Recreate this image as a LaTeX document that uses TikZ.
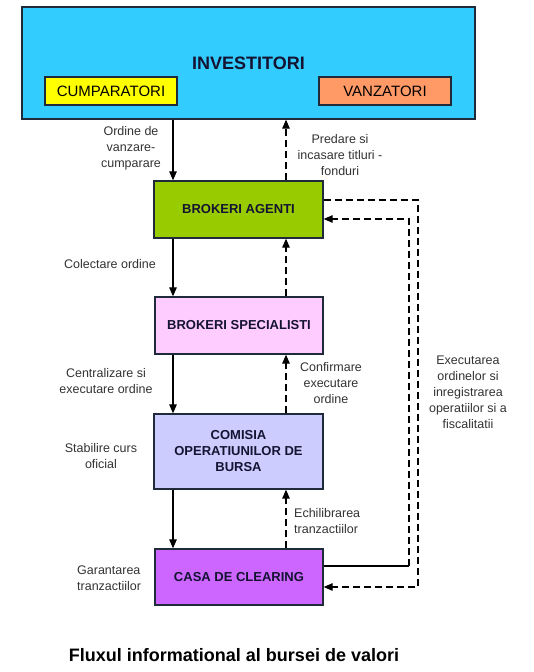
\documentclass[tikz,border=0pt]{standalone}
\usepackage{fontspec}
\setmainfont{Liberation Sans}
\usetikzlibrary{arrows.meta}
\definecolor{invblue}{HTML}{33CCFF}
\definecolor{cumpy}{HTML}{FFFF00}
\definecolor{vanzs}{HTML}{FF9966}
\definecolor{agreen}{HTML}{99CC00}
\definecolor{spink}{HTML}{FFCCFF}
\definecolor{clav}{HTML}{CCCCFF}
\definecolor{cpurp}{HTML}{CC66FF}
\definecolor{edge}{HTML}{1F2A3A}
\definecolor{boxtext}{HTML}{141432}
\definecolor{lbl}{HTML}{333333}
\tikzset{
  box/.style={draw=edge, line width=1.3pt, text=boxtext, font=\fontsize{13}{16}\selectfont\bfseries, align=center, inner sep=0pt},
  subbox/.style={draw=edge, line width=1.3pt, text=black, font=\fontsize{15}{18}\selectfont, inner sep=0pt, minimum width=132pt, minimum height=28pt},
  lab/.style={text=lbl, font=\fontsize{12.5}{16}\selectfont, align=center, inner sep=0pt},
  labl/.style={text=lbl, font=\fontsize{12.5}{16}\selectfont, align=left, inner sep=0pt},
  flow/.style={line width=1.1pt, -{Triangle[length=9pt,width=7.5pt]}},
  back/.style={line width=1.1pt, dash pattern=on 7pt off 4pt, -{Triangle[length=9pt,width=7.5pt]}},
  plainline/.style={line width=1.1pt}
}
\begin{document}
\begin{tikzpicture}[x=1pt,y=-1pt]
\useasboundingbox[fill=white] (0,0) rectangle (533,672);
% main boxes
\node[box, fill=invblue, minimum width=453pt, minimum height=112pt, font=\fontsize{18}{20}\selectfont\bfseries] (inv) at (248.5,63) {INVESTITORI};
\node[subbox, fill=cumpy] (cump) at (111,91) {CUMPARATORI};
\node[subbox, fill=vanzs] (vanz) at (385,91) {VANZATORI};
\node[box, fill=agreen, minimum width=169pt, minimum height=57pt] (ba) at (238.5,209.5) {BROKERI AGENTI};
\node[box, fill=spink, minimum width=168pt, minimum height=57pt] (bs) at (239,325.5) {BROKERI SPECIALISTI};
\node[box, fill=clav, minimum width=169pt, minimum height=75pt] (com) at (238.5,451.5) {COMISIA\\OPERATIUNILOR DE\\BURSA};
\node[box, fill=cpurp, minimum width=168pt, minimum height=56pt] (casa) at (239,577) {CASA DE CLEARING};
% helper coordinates for arrow columns
\coordinate (xl) at (173,0);
\coordinate (xr) at (286,0);
\coordinate (xo) at (418,0);
\coordinate (xi) at (409,0);
% solid downward flow
\draw[flow] (inv.south -| xl) -- (ba.north -| xl);
\draw[flow] (ba.south -| xl) -- (bs.north -| xl);
\draw[flow] (bs.south -| xl) -- (com.north -| xl);
\draw[flow] (com.south -| xl) -- (casa.north -| xl);
% dashed upward flow
\draw[back] (ba.north -| xr) -- (inv.south -| xr);
\draw[back] (bs.north -| xr) -- (ba.south -| xr);
\draw[back] (com.north -| xr) -- (bs.south -| xr);
\draw[back] (casa.north -| xr) -- (com.south -| xr);
% right loops
\coordinate (baout) at ([yshift=9.5pt]ba.east);
\coordinate (bain) at ([yshift=-9.5pt]ba.east);
\coordinate (casaout) at ([yshift=11pt]casa.east);
\coordinate (casain) at ([yshift=-10pt]casa.east);
\draw[back] (baout) -- (baout -| xo) -- (casain -| xo) -- (casain);
\draw[plainline] (casaout) -- (casaout -| xi);
\coordinate (turn) at (casaout -| xi);
\draw[back] (turn) -- (bain -| xi) -- (bain);
% labels
\node[lab] (l1) at (131,148) {Ordine de\\vanzare-\\cumparare};
\node[lab] (l2) at (340,155) {Predare si\\incasare titluri -\\fonduri};
\node[lab] (l3) at (110,264) {Colectare ordine};
\node[lab] (l4) at (106,381.5) {Centralizare si\\executare ordine};
\node[lab] (l5) at (331,383) {Confirmare\\executare\\ordine};
\node[lab] (l6) at (101,456) {Stabilire curs\\oficial};
\node[labl, anchor=west] (l7) at (294,521.5) {Echilibrarea\\tranzactiilor};
\node[labl, anchor=west] (l8) at (77,578.5) {Garantarea\\tranzactiilor};
\node[lab] (l9) at (468,392.5) {Executarea\\ordinelor si\\inregistrarea\\operatiilor si a\\fiscalitatii};
\node[inner sep=0pt, font=\fontsize{18}{20}\selectfont\bfseries, text=black] (title) at (234,655) {Fluxul informational al bursei de valori};
\end{tikzpicture}
\end{document}
